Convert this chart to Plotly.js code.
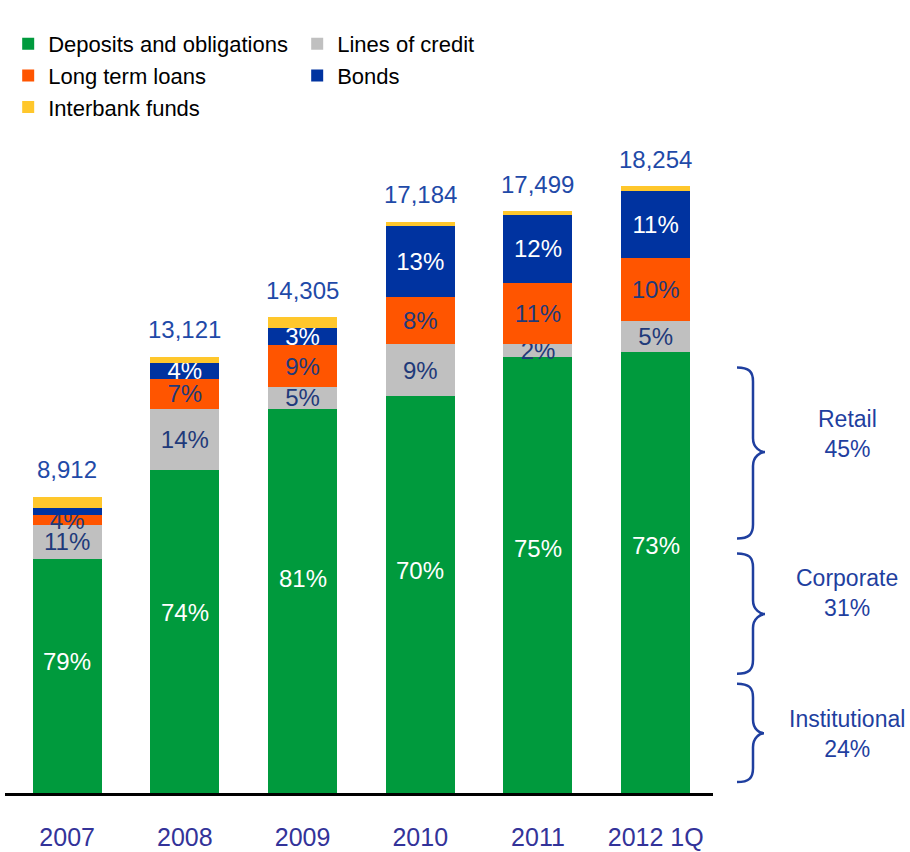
<!DOCTYPE html>
<html>
<head>
<meta charset="utf-8">
<script src="https://cdn.plot.ly/plotly-3.0.1.min.js"></script>
<style>html,body{margin:0;padding:0;background:#fff;}#chart{width:910px;height:852px;}</style>
</head>
<body>
<div id="chart"></div>
<script>
// ---- data ----
const categories = ['2007', '2008', '2009', '2010', '2011', '2012 1Q'];
const totals = [8912, 13121, 14305, 17184, 17499, 18254];
const deposits = [7050, 9710, 11544, 11943, 13107, 13271];
const linesOfCredit = [1000, 1837, 672, 1547, 402, 931];
const longTermLoans = [320, 918, 1245, 1426, 1837, 1880];
const bonds = [200, 459, 529, 2148, 2030, 2026];
const interbankFunds = [342, 197, 315, 120, 123, 146];

const depositsLabels = ['79%', '74%', '81%', '70%', '75%', '73%'];
const linesLabels = ['11%', '14%', '5%', '9%', '2%', '5%'];
const loansLabels = ['4%', '7%', '9%', '8%', '11%', '10%'];
const bondsLabels = ['', '4%', '3%', '13%', '12%', '11%'];
const interbankLabels = ['', '', '', '', '', ''];

const segmentNames = ['Retail', 'Corporate', 'Institutional'];
const segmentShares = ['45%', '31%', '24%'];

// ---- styles ----
const FONT = 'Liberation Sans, Arial, sans-serif';
const C_GREEN = '#009A3D', C_GRAY = '#C0C0C0', C_ORANGE = '#FF5500', C_BLUE = '#0033A0', C_YELLOW = '#FFC72C';
const C_NAVY = '#1F3A7A', C_TOTAL = '#1F4AA8', C_BRACE = '#1F3F9F', C_TICK = '#333399';

function barTrace(name, y, text, color, textColor) {
  return {
    type: 'bar', name: name, x: categories, y: y, text: text,
    textposition: 'inside', insidetextanchor: 'middle', constraintext: 'none',
    textfont: {family: FONT, size: 24, color: textColor},
    marker: {color: color, line: {width: 0}},
    hoverinfo: 'skip'
  };
}

const traces = [
  barTrace('Deposits and obligations', deposits, depositsLabels.map(() => ''), C_GREEN, '#ffffff'),
  barTrace('Lines of credit', linesOfCredit, linesLabels, C_GRAY, C_NAVY),
  barTrace('Long term loans', longTermLoans, loansLabels, C_ORANGE, C_NAVY),
  barTrace('Bonds', bonds, bondsLabels, C_BLUE, '#ffffff'),
  barTrace('Interbank funds', interbankFunds, interbankLabels, C_YELLOW, C_NAVY)
];

// ---- annotations (x given as category index) ----
const annotations = [];
categories.forEach((c, i) => {
  annotations.push({
    x: i, y: totals[i], xref: 'x', yref: 'y', text: totals[i].toLocaleString('en-US'),
    showarrow: false, yanchor: 'middle', yshift: 27,
    font: {family: FONT, size: 24, color: C_TOTAL}
  });
  annotations.push({
    x: i, y: deposits[i] * 0.56, xref: 'x', yref: 'y', text: depositsLabels[i],
    showarrow: false, yanchor: 'middle',
    font: {family: FONT, size: 24, color: '#ffffff'}
  });
});

// pixel helpers for decorations (plot area: x 5..713, y 124..793)
const L = 5, W = 708, T = 124, H = 669;
const px = v => (v - L) / W;
const py = v => (T + H - v) / H;

const braces = [
  {top: 365, tip: 450, bot: 537, tipX: 765, label: 432},
  {top: 552, tip: 613, bot: 673, tipX: 765, label: 592},
  {top: 683, tip: 733, bot: 782, tipX: 764, label: 734}
];
const shapes = braces.map(b => {
  const x0 = 737, xs = 753, xt = b.tipX, r = 14;
  const p = (x, y) => px(x) + ',' + py(y);
  const path = 'M' + p(x0, b.top) +
    ' C' + p(xs - 4, b.top) + ' ' + p(xs, b.top + 4) + ' ' + p(xs, b.top + r) +
    ' L' + p(xs, b.tip - r) +
    ' C' + p(xs, b.tip - 4) + ' ' + p(xt - 4, b.tip) + ' ' + p(xt, b.tip) +
    ' C' + p(xt - 4, b.tip) + ' ' + p(xs, b.tip + 4) + ' ' + p(xs, b.tip + r) +
    ' L' + p(xs, b.bot - r) +
    ' C' + p(xs, b.bot - 4) + ' ' + p(xs - 4, b.bot) + ' ' + p(x0, b.bot);
  return {type: 'path', xref: 'paper', yref: 'paper', path: path,
          line: {color: C_BRACE, width: 2.5}, fillcolor: 'rgba(0,0,0,0)'};
});
braces.forEach((b, i) => {
  annotations.push({
    xref: 'paper', yref: 'paper', x: px(847), y: py(b.label),
    text: segmentNames[i] + '<br>' + segmentShares[i], showarrow: false,
    xanchor: 'center', yanchor: 'middle', align: 'center',
    font: {family: FONT, size: 23, color: C_BRACE}
  });
});

const layout = {
  width: 910, height: 852,
  margin: {l: L, r: 910 - L - W, t: T, b: 852 - T - H, pad: 0},
  paper_bgcolor: '#ffffff', plot_bgcolor: '#ffffff',
  barmode: 'stack', bargap: 0.414,
  font: {family: FONT, color: '#000000'},
  showlegend: true,
  legend: {
    orientation: 'h', xref: 'container', yref: 'container', x: 0.009, y: 0.973,
    xanchor: 'left', yanchor: 'top', traceorder: 'normal',
    entrywidth: 244, entrywidthmode: 'pixels',
    font: {family: FONT, size: 22, color: '#000000'},
    itemclick: false, itemdoubleclick: false, bgcolor: 'rgba(0,0,0,0)'
  },
  xaxis: {
    type: 'category', range: [-0.528, 5.487], showgrid: false, zeroline: false,
    showline: true, linecolor: '#000000', linewidth: 3, ticks: '',
    ticklabelstandoff: 20,
    tickfont: {family: FONT, size: 25, color: C_TICK}, fixedrange: true
  },
  yaxis: {
    range: [0, 20000], visible: false, showgrid: false, zeroline: false, fixedrange: true
  },
  annotations: annotations,
  shapes: shapes
};

Plotly.newPlot('chart', traces, layout, {displayModeBar: false, staticPlot: true});
</script>
</body>
</html>
